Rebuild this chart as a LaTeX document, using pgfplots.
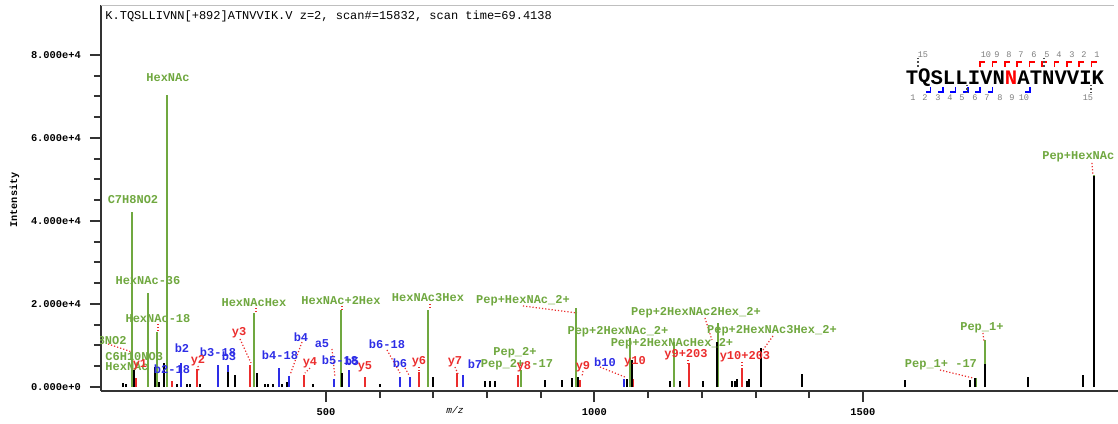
\documentclass[border=0pt]{standalone}
\usepackage{fontspec}
\setmainfont{Liberation Mono}
\usepackage{pgfplots}
\pgfplotsset{compat=1.18}

\definecolor{pkgreen}{RGB}{112,168,64}
\definecolor{pkred}{RGB}{235,45,45}
\definecolor{pkblue}{RGB}{45,45,230}
\definecolor{seqgray}{RGB}{125,125,125}

\tikzset{
    lbl/.style={font=\fontsize{6}{7}\selectfont\bfseries, inner sep=0pt},
    seq/.style={font=\fontsize{10.3}{11}\selectfont\bfseries, inner sep=0pt},
    nums/.style={font=\fontsize{4.3}{5}\selectfont, text=seqgray, inner sep=0pt},
}

% pixel position of the reference -> axis units (m/z, intensity/1000)
\newcommand\X[1]{(#1-57.5)/0.537}
\newcommand\Y[1]{(387-#1)*0.241}
\newcommand\lab[4]{\node[lbl,text=#3] at (axis cs:{\X{#1}},{\Y{#2}}) {#4};}
\newcommand\labw[4]{\node[lbl,text=#3,anchor=west] at (axis cs:{\X{#1}},{\Y{#2}}) {#4};}
\newcommand\labe[4]{\node[lbl,text=#3,anchor=east] at (axis cs:{\X{#1}},{\Y{#2}}) {#4};}
\newcommand\ld[4]{\draw[pkred,densely dotted,line width=0.6pt] (axis cs:{\X{#1}},{\Y{#2}}) -- (axis cs:{\X{#3}},{\Y{#4}});}
\newcommand\sq[3]{\node[seq,text=#2] at (axis cs:{\X{#1}},{\Y{78}}) {#3};}
\newcommand\num[3]{\node[nums] at (axis cs:{\X{#1}},{\Y{#2}}) {#3};}

\begin{document}
\begin{tikzpicture}
\begin{axis}[
    name=ax,
    scale only axis,
    width=508.5pt, height=193pt,
    xmin=81, xmax=1975,
    ymin=-0.96, ymax=92,
    axis x line*=bottom, axis y line*=left,
    axis line style={-, black!80, line width=1pt},
    tick align=outside,
    tick style={black!80, line width=1pt},
    major tick length=5.5pt, minor tick length=3.5pt,
    xtick={500,1000,1500}, xticklabels={\mbox{500},\mbox{1000},\mbox{1500}},
    minor x tick num=4,
    ytick={0,20,40,60,80},
    yticklabels={\mbox{0.000e+0},\mbox{2.000e+4},\mbox{4.000e+4},\mbox{6.000e+4},\mbox{8.000e+4}},
    minor y tick num=3,
    ticklabel style={font=\fontsize{5.2}{6}\selectfont\bfseries},
    xticklabel style={yshift=0.5pt},
    yticklabel style={xshift=-1pt},
    xlabel={m/z},
    xlabel style={font=\fontsize{4.8}{5}\selectfont\itshape, at={(axis description cs:0.348,-0.049)}, anchor=center},
    ylabel={Intensity},
    ylabel style={font=\fontsize{5.1}{6}\selectfont\bfseries, at={(axis description cs:-0.085,0.495)}, anchor=center},
]

% top frame line
\draw[black!25, line width=1pt] (rel axis cs:0,1) -- (rel axis cs:0.996,1);

% glycan / peptide ions
\addplot[ycomb, pkgreen, line width=1pt] coordinates {
(138.06,42.2) (168.07,22.6) (186.08,13.3) (204.09,70.4) (366.14,17.8)
(528.19,18.5) (690.24,18.5) (864.0,4.1) (965.55,19.0) (1067.09,11.8)
(1148.12,10.8) (1229.14,15.4) (1310.17,9.4) (1710.0,2.2) (1727.0,11.3)
(1930.09,51.1)
};
% y ions
\addplot[ycomb, pkred, line width=1pt] coordinates {
(147.11,2.2) (213.0,1.5) (260.2,4.3) (359.27,5.3) (458.33,2.9) (572.38,2.4)
(673.42,3.6) (744.46,3.4) (858.5,2.9) (972.55,1.7) (1071.6,1.9)
(1175.6,5.8) (1274.7,4.6)
};
% b ions
\addplot[ycomb, pkblue, line width=1pt] coordinates {
(230.11,5.8) (299.1,5.3) (317.15,5.3) (412.2,4.6) (430.23,2.7) (515.3,2.0)
(543.31,4.1) (638.4,2.4) (656.4,2.4) (755.47,2.9) (1054.6,1.9)
};
% unassigned peaks
\addplot[ycomb, black, line width=1pt] coordinates {
(122,1.0) (127,0.8) (143,4.1) (181.6,4.7) (189,1.3) (198,5.8) (222,0.8)
(240.6,0.8) (246.7,0.8) (265,0.8) (317.5,3.7) (330.5,2.9) (371,3.4) (386,0.8)
(392,0.8) (401,0.8) (417.5,0.8) (427,1.3) (476,0.8) (529,3.4) (600.6,0.8)
(699,2.4) (796,1.4) (805,1.4) (815,1.4) (908,1.7) (939,1.7) (957.5,2.2)
(969,2.4) (1060.5,2.0) (1069,6.5) (1140.6,1.4) (1159,1.4) (1202,1.4)
(1229,10.8) (1255.5,1.4) (1262,1.4) (1265,1.9) (1284,1.4) (1288,1.9)
(1311,9.4) (1386,3.1) (1578,1.7) (1699,1.7) (1708,2.2) (1727,5.5)
(1807,2.4) (1910,2.9) (1930.09,50.8)
};

% header
\node[anchor=west, font=\fontsize{6}{7}\selectfont, inner sep=0pt] at (axis cs:{\X{105}},{\Y{17}})
  {K.TQSLLIVNN[+892]ATNVVIK.V z=2, scan\#=15832, scan time=69.4138};

% leader lines
\ld{108}{344}{132}{352}
\ld{158}{324}{158}{331}
\ld{256}{308}{256}{313}
\ld{342}{306}{342}{310}
\ld{430}{304}{430}{309}
\ld{523}{306}{577}{313}
\ld{240}{339}{251}{363}
\ld{198}{366}{199}{371}
\ld{302}{342}{290}{375}
\ld{332}{349}{335}{377}
\ld{310}{368}{305}{373}
\ld{387}{350}{400}{373}
\ld{405}{368}{409}{375}
\ld{419}{367}{419}{373}
\ld{455}{367}{458}{374}
\ld{583}{371}{582}{377}
\ld{600}{367}{625}{377}
\ld{705}{318}{712}{340}
\ld{688}{360}{688}{364}
\ld{742}{362}{742}{368}
\ld{773}{336}{763}{350}
\ld{983}{333}{984}{341}
\ld{940}{370}{973}{378}
\ld{1092}{163}{1093}{175}

% green labels
\lab{168}{78}{pkgreen}{HexNAc}
\lab{133}{200}{pkgreen}{C7H8NO2}
\lab{148}{281}{pkgreen}{HexNAc-36}
\lab{158}{319}{pkgreen}{HexNAc-18}
\lab{254}{303}{pkgreen}{HexNAcHex}
\lab{341}{301}{pkgreen}{HexNAc+2Hex}
\lab{428}{298}{pkgreen}{HexNAc3Hex}
\lab{523}{301}{pkgreen}{Pep+HexNAc\_2+}
\lab{696}{313}{pkgreen}{Pep+2HexNAc2Hex\_2+}
\lab{618}{332}{pkgreen}{Pep+2HexNAc\_2+}
\lab{772}{331}{pkgreen}{Pep+2HexNAc3Hex\_2+}
\lab{672}{344}{pkgreen}{Pep+2HexNAcHex\_2+}
\lab{515}{353}{pkgreen}{Pep\_2+}
\lab{517}{365}{pkgreen}{Pep\_2+ -17}
\lab{982}{328}{pkgreen}{Pep\_1+}
\lab{941}{365}{pkgreen}{Pep\_1+ -17}
\labw{1042}{157}{pkgreen}{Pep+HexNAc}
\labe{127}{341}{pkgreen}{C6H8NO2}
\labw{105}{357}{pkgreen}{C6H10NO3}
\labw{105}{367}{pkgreen}{HexNAc}

% b ions
\lab{182}{348}{pkblue}{b2}
\lab{172}{369}{pkblue}{b2-18}
\lab{218}{352}{pkblue}{b3-18}
\lab{229}{356}{pkblue}{b3}
\lab{301}{337}{pkblue}{b4}
\lab{280}{355}{pkblue}{b4-18}
\lab{322}{344}{pkblue}{a5}
\lab{340}{360}{pkblue}{b5-18}
\lab{352}{361}{pkblue}{b5}
\lab{387}{344}{pkblue}{b6-18}
\lab{400}{363}{pkblue}{b6}
\lab{475}{364}{pkblue}{b7}
\lab{605}{362}{pkblue}{b10}

% y ions
\lab{140}{365}{pkred}{y1}
\lab{198}{361}{pkred}{y2}
\lab{239}{333}{pkred}{y3}
\lab{310}{363}{pkred}{y4}
\lab{365}{367}{pkred}{y5}
\lab{419}{362}{pkred}{y6}
\lab{455}{362}{pkred}{y7}
\lab{524}{367}{pkred}{y8}
\lab{583}{367}{pkred}{y9}
\lab{635}{362}{pkred}{y10}
\lab{686}{355}{pkred}{y9+203}
\lab{745}{357}{pkred}{y10+203}

% sequence coverage
\sq{912}{black}{T}   \sq{924.4}{black}{Q} \sq{936.8}{black}{S} \sq{949.2}{black}{L}
\sq{961.6}{black}{L} \sq{974}{black}{I}   \sq{986.4}{black}{V} \sq{998.8}{black}{N}
\sq{1011.2}{red}{N}  \sq{1023.6}{black}{A} \sq{1036}{black}{T} \sq{1048.4}{black}{N}
\sq{1060.8}{black}{V} \sq{1073.2}{black}{V} \sq{1085.6}{black}{I} \sq{1098}{black}{K}
\foreach \c in {980,992.4,1004.8,1017.2,1029.6,1042,1054.4,1066.8,1079.2,1091.6}{
  \edef\tmp{\noexpand\draw[red,line width=0.8pt] (axis cs:{\noexpand\X{\c}},{\noexpand\Y{67}}) |- (axis cs:{\noexpand\X{\c+5}},{\noexpand\Y{62}});}\tmp
}
\foreach \c in {930.6,943,955.4,967.8,980.2,992.6,1029.8}{
  \edef\tmp{\noexpand\draw[blue,line width=0.8pt] (axis cs:{\noexpand\X{\c}},{\noexpand\Y{87}}) |- (axis cs:{\noexpand\X{\c-5}},{\noexpand\Y{92}});}\tmp
}
\draw[black!70,densely dotted,line width=0.8pt] (axis cs:{\X{918}},{\Y{58}}) -- (axis cs:{\X{918}},{\Y{68}});
\draw[black!70,densely dotted,line width=0.8pt] (axis cs:{\X{1044}},{\Y{58}}) -- (axis cs:{\X{1044}},{\Y{68}});
\draw[black!70,densely dotted,line width=0.8pt] (axis cs:{\X{967}},{\Y{85}}) -- (axis cs:{\X{967}},{\Y{93}});
\draw[black!70,densely dotted,line width=0.8pt] (axis cs:{\X{1091}},{\Y{85}}) -- (axis cs:{\X{1091}},{\Y{93}});
\num{923}{55}{15}
\num{986}{55}{10} \num{997}{55}{9} \num{1009}{55}{8} \num{1021}{55}{7} \num{1034}{55}{6}
\num{1047}{55}{5} \num{1059}{55}{4} \num{1072}{55}{3} \num{1084}{55}{2} \num{1097}{55}{1}
\num{913}{98}{1} \num{925}{98}{2} \num{938}{98}{3} \num{950}{98}{4} \num{962}{98}{5}
\num{975}{98}{6} \num{987}{98}{7} \num{1000}{98}{8} \num{1012}{98}{9} \num{1024}{98}{10}
\num{1088}{98}{15}
\end{axis}
\pgfresetboundingbox
\path[use as bounding box] ([xshift=-50.5pt,yshift=-16pt]ax.south west) rectangle ([yshift=2.5pt]ax.north east);
\end{tikzpicture}
\end{document}
